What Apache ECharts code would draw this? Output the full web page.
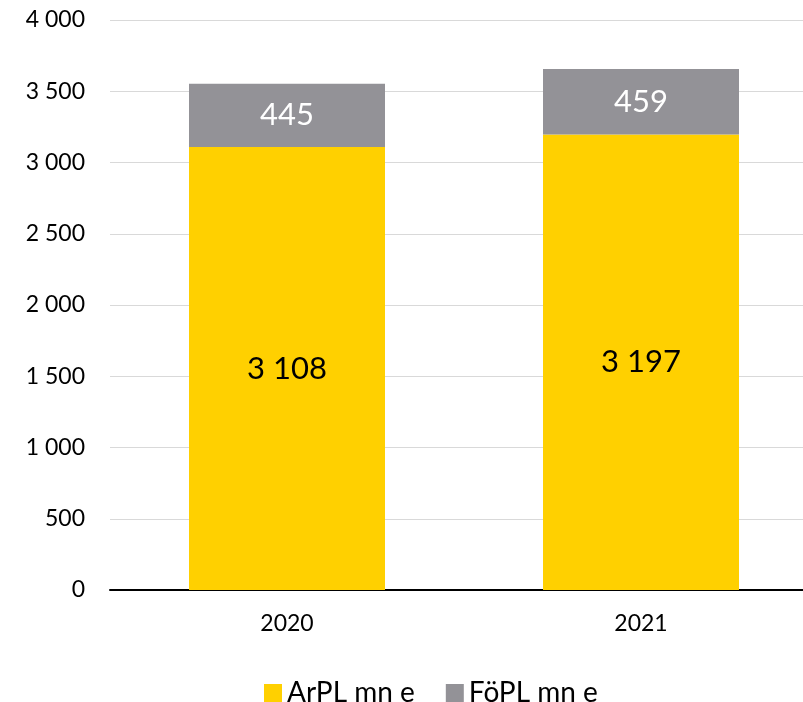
<!DOCTYPE html>
<html>
<head>
<meta charset="utf-8">
<script src="https://cdn.jsdelivr.net/npm/echarts@6/dist/echarts.min.js"></script>
<style>
  html, body { margin: 0; padding: 0; background: #fff; }
  #main { width: 803px; height: 702px; }
</style>
</head>
<body>
<div id="main"></div>
<script>
// data
var years = ["2020", "2021"];
var arpl = [3108, 3197];
var fopl = [445, 459];

var fmt = function (v) {
  // space as thousands separator
  return String(v).replace(/\B(?=(\d{3})+(?!\d))/g, " ");
};

var chartDom = document.getElementById("main");
var myChart = echarts.init(chartDom);
var font = "Lato, 'Open Sans', sans-serif";

var option = {
  animation: false,
  grid: {
    left: 110,
    top: 20,
    right: -15,
    bottom: 112,
    containLabel: false,
    outerBoundsMode: "none"
  },
  legend: {
    top: 674,
    left: 259,
    itemWidth: 18,
    itemHeight: 18,
    itemGap: 31,
    itemTextGap: 8,
    icon: "rect",
    textStyle: { fontFamily: font, fontSize: 28, color: "#000" },
    data: ["ArPL mn e", "FöPL mn e"]
  },
  xAxis: {
    type: "category",
    data: years,
    axisLine: { lineStyle: { color: "#000", width: 2 } },
    axisTick: { show: false },
    axisLabel: { fontFamily: font, fontSize: 23, color: "#000", margin: 22 }
  },
  yAxis: {
    type: "value",
    min: 0,
    max: 4000,
    interval: 500,
    axisLine: { show: false },
    axisTick: { show: false },
    splitLine: { lineStyle: { color: "#d9d9d9", width: 1 } },
    axisLabel: {
      fontFamily: font,
      fontSize: 23,
      color: "#000",
      margin: 25,
      formatter: fmt
    }
  },
  series: [
    {
      name: "ArPL mn e",
      type: "bar",
      stack: "total",
      barWidth: 196,
      data: arpl,
      itemStyle: { color: "#FFD000" },
      label: {
        show: true,
        position: "inside",
        fontFamily: font,
        fontSize: 31,
        color: "#000",
        formatter: function (p) { return fmt(p.value); }
      }
    },
    {
      name: "FöPL mn e",
      type: "bar",
      stack: "total",
      barWidth: 196,
      data: fopl,
      itemStyle: { color: "#939297" },
      label: {
        show: true,
        position: "inside",
        fontFamily: font,
        fontSize: 31,
        color: "#fff",
        formatter: function (p) { return fmt(p.value); }
      }
    }
  ]
};

myChart.setOption(option);
window.onresize = function () {
  myChart.resize();
};
</script>
</body>
</html>
